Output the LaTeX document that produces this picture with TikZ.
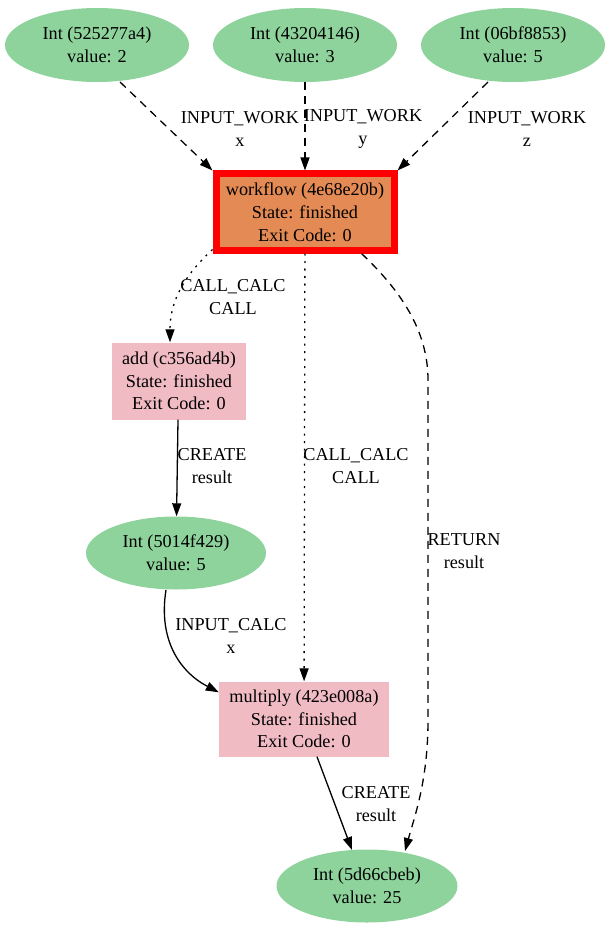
\documentclass[tikz,border=0pt]{standalone}
\usepackage{fontspec}
\setmainfont{Liberation Serif}
\usetikzlibrary{shapes.geometric,arrows.meta}
\definecolor{datagreen}{RGB}{141,211,155}
\definecolor{wforange}{RGB}{228,138,84}
\definecolor{calcpink}{RGB}{240,187,195}
\tikzset{
  every node/.style={font=\fontsize{18.2}{22.8}\selectfont, align=center},
  data/.style={ellipse, fill=datagreen, minimum width=184pt, minimum height=74pt, inner sep=0pt},
  calc/.style={rectangle, fill=calcpink, inner sep=0pt},
  link/.style={line width=1.3pt, -{Triangle[length=13pt,width=9pt]}},
  inwork/.style={link, dash pattern=on 8pt off 6pt},
  callcalc/.style={link, dash pattern=on 2pt off 5.5pt},
  lbl/.style={inner sep=0pt}
}
\begin{document}
\begin{tikzpicture}[x=1pt,y=1pt]
\useasboundingbox (0,0) rectangle (607,-933);
% inputs
\node[data] (ia) at (97,-45) {Int (525277a4)\\value: 2};
\node[data] (ib) at (305,-45) {Int (43204146)\\value: 3};
\node[data] (ic) at (513,-45) {Int (06bf8853)\\value: 5};
% workflow
\node[rectangle, draw=red, line width=7pt, fill=wforange, minimum width=178pt, minimum height=76pt, inner sep=0pt] (wf) at (305,-212) {workflow (4e68e20b)\\State: finished\\Exit Code: 0};
% calculations
\node[calc, minimum width=134pt, minimum height=77pt] (add) at (179,-381) {add (c356ad4b)\\State: finished\\Exit Code: 0};
\node[data, minimum width=180pt, minimum height=73pt] (sum) at (176,-553) {Int (5014f429)\\value: 5};
\node[calc, minimum width=170pt, minimum height=75pt] (mul) at (304,-719) {multiply (423e008a)\\State: finished\\Exit Code: 0};
\node[data, minimum width=181pt, minimum height=73pt] (res) at (367,-886) {Int (5d66cbeb)\\value: 25};
% edges
\draw[inwork] (120,-82) -- (wf.north west);
\draw[inwork] (ib) -- (wf);
\draw[inwork] (488,-82) -- (wf.north east);
\draw[callcalc] ([yshift=4pt]wf.south west) .. controls (185,-275) and (170,-300) .. ([xshift=-9pt]add.north);
\draw[callcalc] (wf) -- (mul);
\draw[inwork] ([xshift=-36pt]wf.south east) .. controls (400,-290) and (428,-330) .. (428,-380) -- (428,-720) .. controls (428,-780) and (415,-815) .. (405,-851);
\draw[link] ([xshift=-1pt]add.south) -- (sum);
\draw[link] (166,-590) .. controls (158,-640) and (180,-672) .. ([yshift=-11pt]mul.north west);
\draw[link] ([xshift=13pt]mul.south) -- (352,-850);
% labels
\node[lbl] (la) at (240,-129) {INPUT\_WORK\\x};
\node[lbl] (lb) at (363,-129) {INPUT\_WORK\\y};
\node[lbl] (lc) at (527,-129) {INPUT\_WORK\\z};
\node[lbl] (ld) at (233,-297) {CALL\_CALC\\CALL};
\node[lbl] (le) at (356,-466) {CALL\_CALC\\CALL};
\node[lbl] (lf) at (212,-466) {CREATE\\result};
\node[lbl] (lg) at (464,-551) {RETURN\\result};
\node[lbl] (lh) at (231,-636) {INPUT\_CALC\\x};
\node[lbl] (li) at (376,-804) {CREATE\\result};
\end{tikzpicture}
\end{document}
